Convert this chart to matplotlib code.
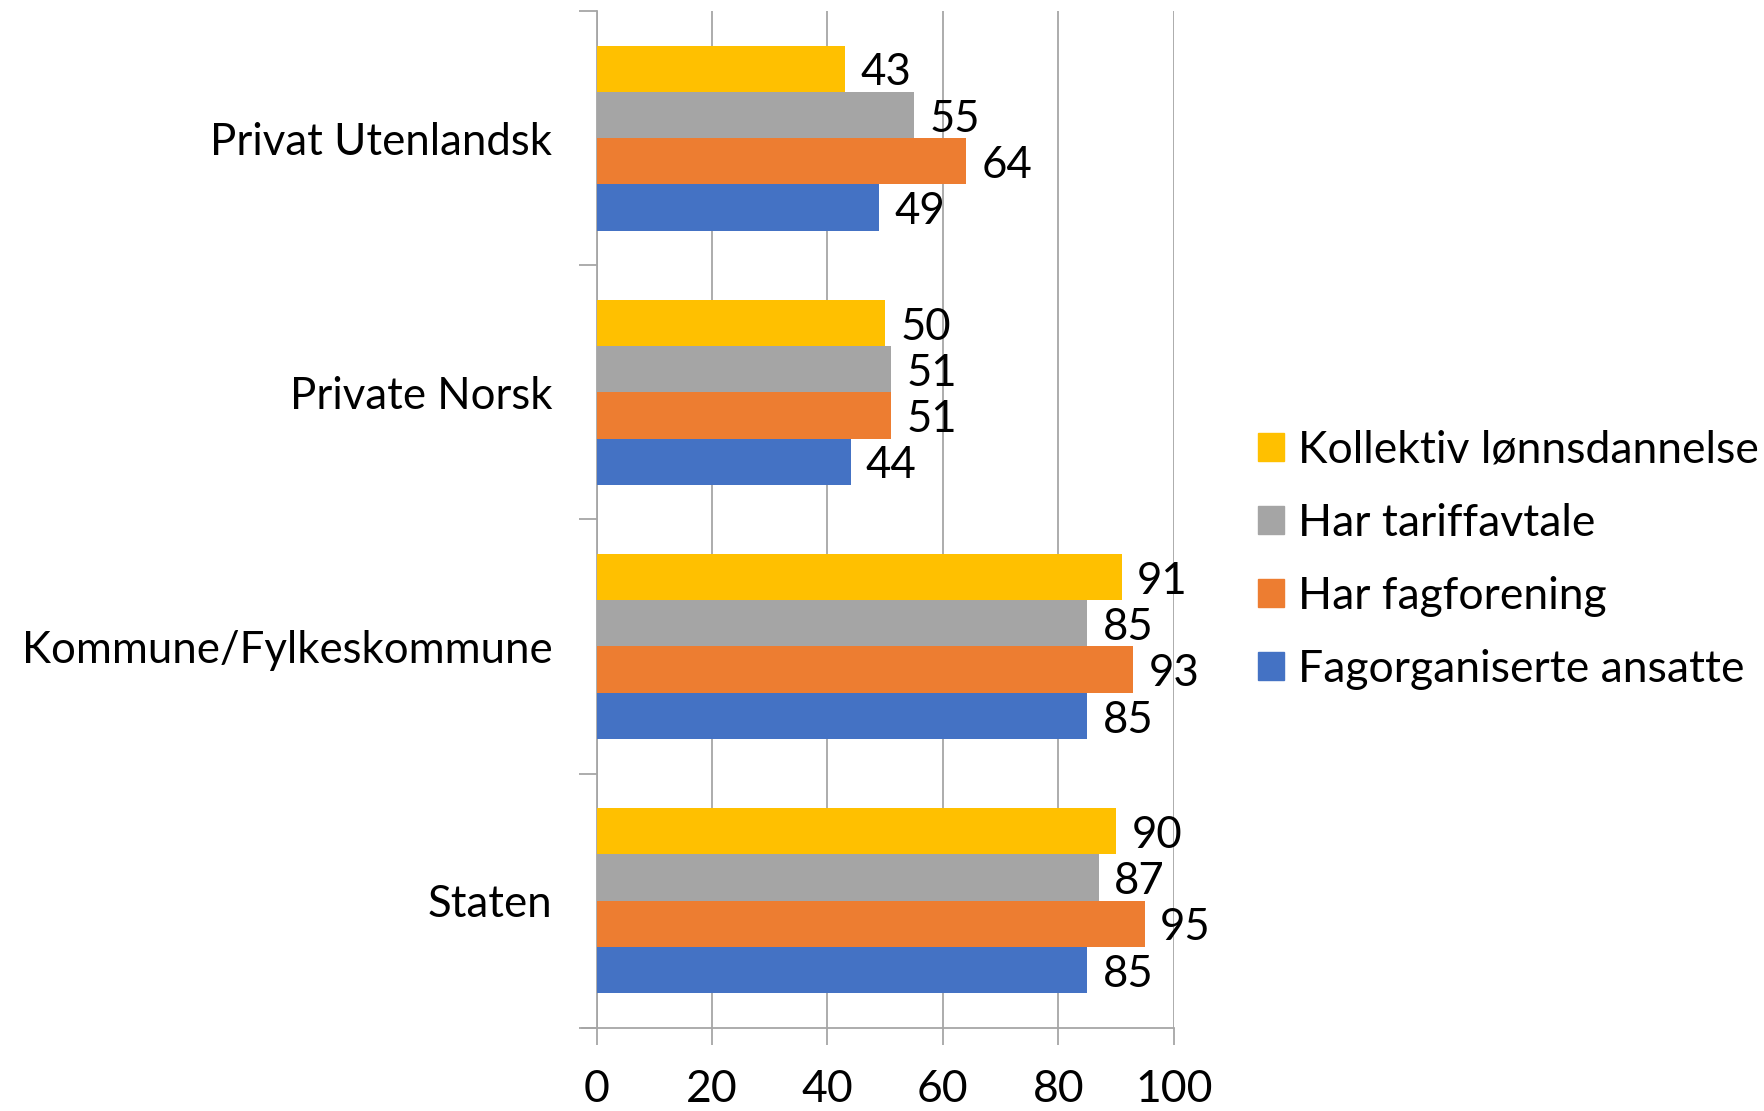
import numpy as np
import matplotlib
import matplotlib.pyplot as plt
import matplotlib.patches as mpatches

matplotlib.use('Agg')
plt.rcParams['font.family'] = ['Lato', 'DejaVu Sans']

# categories from top to bottom
categories = ['Privat Utenlandsk', 'Private Norsk', 'Kommune/Fylkeskommune', 'Staten']

# series in the order they appear in each group (top to bottom)
series_names = ['Kollektiv lønnsdannelse', 'Har tariffavtale', 'Har fagforening', 'Fagorganiserte ansatte']
kollektiv = [43, 50, 91, 90]
tariffavtale = [55, 51, 85, 87]
fagforening = [64, 51, 93, 95]
fagorganiserte = [49, 44, 85, 85]
series_values = [kollektiv, tariffavtale, fagforening, fagorganiserte]
series_colors = ['#FFC000', '#A5A5A5', '#ED7D31', '#4472C4']

x_ticks = [0, 20, 40, 60, 80, 100]

fig = plt.figure(figsize=(17.65, 11.11), dpi=100)
ax = fig.add_axes([0.338, 0.075, 0.327, 0.915])

bar_h = 0.182
n = len(series_values)
y_pos = np.arange(len(categories))
for k, (vals, col) in enumerate(zip(series_values, series_colors)):
    offs = (k - (n - 1) / 2) * bar_h
    bars = ax.barh(y_pos + offs, vals, height=bar_h, color=col, zorder=3)
    for b, v in zip(bars, vals):
        ax.annotate(str(v), (b.get_width(), b.get_y() + b.get_height() / 2),
                    xytext=(11, -3), textcoords='offset points',
                    va='center', ha='left', fontsize=31.5, zorder=4)

ax.set_xlim(0, 100)
ax.set_ylim(len(categories) - 0.5, -0.5)
ax.set_xticks(x_ticks)
ax.set_xticklabels([str(t) for t in x_ticks], fontsize=32)
ax.xaxis.grid(True, color='#A6A6A6', linewidth=1.3, zorder=0)

# category labels centred, ticks at the borders between groups
ax.set_yticks(y_pos)
ax.set_yticklabels(categories, fontsize=31.5)
ax.tick_params(axis='y', length=0, pad=32)
ax.set_yticks(np.arange(len(categories) + 1) - 0.5, minor=True)
ax.tick_params(axis='y', which='minor', length=13, color='#A6A6A6', width=1.3)
ax.tick_params(axis='x', length=12, color='#A6A6A6', width=1.3, pad=18)

for side in ['top', 'right']:
    ax.spines[side].set_visible(False)
for side in ['left', 'bottom']:
    ax.spines[side].set_color('#A6A6A6')
    ax.spines[side].set_linewidth(1.3)
ax.spines['bottom'].set_bounds(-2.5, 100)

handles = [mpatches.Patch(color=c, label=l) for l, c in zip(series_names, series_colors)]
fig.legend(handles=handles, loc='center left', bbox_to_anchor=(0.713, 0.496),
           frameon=False, fontsize=32, handlelength=0.58, handleheight=0.58,
           handletextpad=0.3, labelspacing=0.72, borderaxespad=0, borderpad=0)

fig.savefig('out.png', dpi=100)
